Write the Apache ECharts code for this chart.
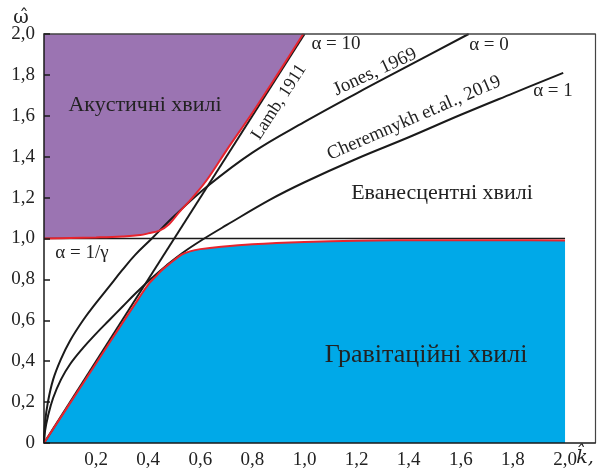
<!DOCTYPE html>
<html>
<head>
<meta charset="utf-8">
<script src="https://cdn.jsdelivr.net/npm/echarts@6/dist/echarts.min.js"></script>
<style>
html, body { margin: 0; padding: 0; background: #fff; }
#chart { width: 597px; height: 470px; }
</style>
</head>
<body>
<div id="chart"></div>
<script>
// межа акустичних хвиль (знизу фіолетової області)
var acousticK = [0, 0.1, 0.2, 0.3, 0.37, 0.4, 0.445, 0.48, 0.52, 0.57, 0.625, 0.7, 0.8, 0.9, 0.995];
var acousticW = [1.0, 1.002, 1.005, 1.01, 1.017, 1.025, 1.04, 1.07, 1.13, 1.2, 1.286, 1.43, 1.615, 1.81, 2.0];
// межа гравітаційних хвиль (зверху синьої області)
var gravityK = [0, 0.1, 0.2, 0.3, 0.36, 0.4, 0.43, 0.45, 0.47, 0.5, 0.53, 0.56, 0.6, 0.68, 0.8, 1.0, 1.2, 1.5, 1.8, 2.0];
var gravityW = [0, 0.195, 0.39, 0.585, 0.7, 0.775, 0.815, 0.842, 0.864, 0.895, 0.922, 0.937, 0.948, 0.96, 0.972, 0.983, 0.989, 0.992, 0.992, 0.99];
// alpha = 10, Lamb 1911
var lambK = [0, 1.0];
var lambW = [0, 2.0];
// alpha = 0, Jones 1969
var jonesK = [0, 0.004, 0.015, 0.035, 0.065, 0.1, 0.15, 0.2, 0.25, 0.3, 0.35, 0.414, 0.5, 0.625, 0.8, 1.0, 1.2, 1.4, 1.63];
var jonesW = [0, 0.1, 0.2, 0.31, 0.41, 0.5, 0.6, 0.685, 0.765, 0.845, 0.92, 1.0, 1.11, 1.253, 1.42, 1.57, 1.71, 1.845, 2.0];
// alpha = 1, Cheremnykh et.al. 2019
var cherK = [0, 0.004, 0.015, 0.035, 0.065, 0.1, 0.15, 0.2, 0.25, 0.3, 0.35, 0.41, 0.47, 0.53, 0.609, 0.7, 0.868, 1.0, 1.2, 1.4, 1.6, 1.8, 1.993];
var cherW = [0, 0.06, 0.13, 0.22, 0.31, 0.385, 0.465, 0.535, 0.6, 0.665, 0.73, 0.802, 0.868, 0.928, 0.995, 1.065, 1.19, 1.275, 1.39, 1.495, 1.605, 1.71, 1.81];
// alpha = 1/gamma
var horizK = [0, 2.0];
var horizW = [1.0, 1.0];

function pairs(xs, ys) {
	var out = [];
	for (var i = 0; i < xs.length; i++) out.push([xs[i], ys[i]]);
	return out;
}
function fmt(v) {
	return v === 0 ? '0' : v.toFixed(1).replace('.', ',');
}

var serif = '"Liberation Serif", serif';
var textColor = '#222';
var black = '#1a1a1a';
var red = '#e8242d';

var myChart = echarts.init(document.getElementById('chart'));

function curve(data, color, width, z, smooth) {
	return {
		type: 'line', data: data, showSymbol: false, symbol: 'none', z: z,
		smooth: smooth ? 0.4 : false,
		lineStyle: { color: color, width: width },
		silent: true
	};
}
function txt(text, x, y, size, rot, extra) {
	var el = {
		type: 'text', x: x, y: y, rotation: (rot || 0) * Math.PI / 180, z: 20,
		style: { text: text, font: size + 'px ' + serif, fill: textColor, align: 'center', verticalAlign: 'middle' }
	};
	if (extra) for (var key in extra) el.style[key] = extra[key];
	return el;
}

var option = {
	animation: false,
	grid: { left: 44, top: 34, right: 2, bottom: 27 },
	xAxis: [{
		type: 'value', min: 0, max: 2.115, interval: 0.2, z: 5,
		axisLine: { onZero: false, lineStyle: { color: black, width: 1.5 } },
		axisTick: { show: false },
		splitLine: { show: false },
		axisLabel: {
			formatter: fmt, showMinLabel: false, showMaxLabel: false,
			fontFamily: serif, fontSize: 19, color: textColor, margin: 8
		}
	}, {
		type: 'value', position: 'top', min: 0, max: 2.115, z: 5,
		axisLine: { show: true, onZero: false, lineStyle: { color: '#444', width: 1.5 } },
		axisTick: { show: false }, axisLabel: { show: false }, splitLine: { show: false }
	}],
	yAxis: [{
		type: 'value', min: 0, max: 2.0, interval: 0.2, z: 5,
		axisLine: { onZero: false, lineStyle: { color: black, width: 1.5 } },
		axisTick: { inside: true, length: 6, lineStyle: { color: black, width: 1.5 } },
		splitLine: { show: false },
		axisLabel: { formatter: fmt, fontFamily: serif, fontSize: 19, color: textColor, margin: 9 }
	}, {
		type: 'value', position: 'right', min: 0, max: 2.0, z: 5,
		axisLine: { show: true, onZero: false, lineStyle: { color: '#444', width: 1.2 } },
		axisTick: { show: false }, axisLabel: { show: false }, splitLine: { show: false }
	}],
	series: [
		// заливки
		{
			type: 'line', data: pairs(acousticK, acousticW), showSymbol: false, symbol: 'none', z: 1,
			smooth: 0.4, lineStyle: { width: 0 },
			areaStyle: { color: '#9b74b2', opacity: 1, origin: 'end' }, silent: true
		},
		{
			type: 'line', data: pairs(gravityK, gravityW), showSymbol: false, symbol: 'none', z: 1,
			smooth: 0.4, lineStyle: { width: 0 },
			areaStyle: { color: '#00a9e8', opacity: 1, origin: 'start' }, silent: true
		},
		// чорні лінії
		curve(pairs(horizK, horizW), black, 1.5, 2, false),
		curve(pairs(lambK, lambW), black, 2, 2, false),
		curve(pairs(jonesK, jonesW), black, 2, 2, true),
		curve(pairs(cherK, cherW), black, 2, 2, true),
		// червоні межі
		curve(pairs(acousticK, acousticW), red, 2, 3, true),
		curve(pairs(gravityK, gravityW), red, 2, 3, true)
	],
	graphic: [
		txt('\u03C9\u0302', 21, 18, 19, 0, { font: '19px "DejaVu Serif", serif' }),
		txt('k\u0302,', 585, 458, 20, 0, { font: 'italic 19px "DejaVu Serif", serif' }),
		txt('Акустичні хвилі', 145, 105, 22),
		txt('Еванесцентні хвилі', 442, 193, 22),
		txt('Гравітаційні хвилі', 426, 355, 26),
		txt('α = 10', 336, 44, 19),
		txt('α = 0', 489, 45, 19),
		txt('α = 1', 553, 91, 19),
		txt('α = 1/γ', 82, 253, 19),
		txt('Lamb, 1911', 279, 102, 18, 57),
		txt('Jones, 1969', 375, 72, 19, 25),
		txt('Cheremnykh et.al., 2019', 414, 118, 19, 23.5)
	]
};
myChart.setOption(option);
</script>
</body>
</html>
